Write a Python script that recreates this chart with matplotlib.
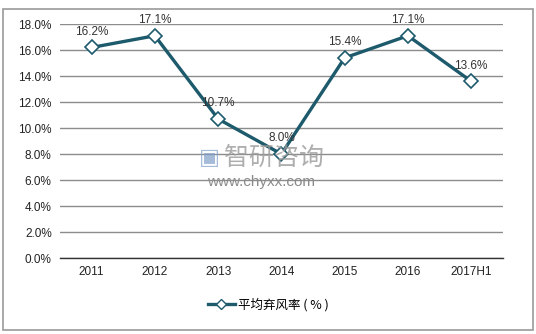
import matplotlib
matplotlib.use("Agg")
import matplotlib.pyplot as plt
from matplotlib.patches import Rectangle
from matplotlib.lines import Line2D

plt.rcParams["font.family"] = ["Liberation Sans", "Noto Sans CJK SC", "DejaVu Sans"]

categories = ["2011", "2012", "2013", "2014", "2015", "2016", "2017H1"]
rates = [16.2, 17.1, 10.7, 8.0, 15.4, 17.1, 13.6]
yticks = [0, 2, 4, 6, 8, 10, 12, 14, 16, 18]

LINE_COLOR = "#1d5a6c"
GRID_COLOR = "#8c8c8c"

fig = plt.figure(figsize=(5.36, 3.34), dpi=100)
ax = fig.add_axes([0.112, 0.2275, 0.826, 0.7005])

x = range(len(categories))
ax.plot(x, rates, color=LINE_COLOR, lw=2.4, marker="D", ms=7,
        mfc="white", mec=LINE_COLOR, mew=1.2, zorder=3)

for xi, v in zip(x, rates):
    ax.annotate(f"{v:.1f}%", (xi, v), xytext=(0, 7), textcoords="offset points",
                ha="center", va="bottom", fontsize=8.5, color="#333333", zorder=4)

ax.set_xlim(-0.5, len(categories) - 0.5)
ax.set_ylim(0, 18)
ax.set_yticks(yticks)
ax.set_yticklabels([f"{t:.1f}%" for t in yticks], fontsize=8.5, color="#222222")
ax.set_xticks(list(x))
ax.set_xticklabels(categories, fontsize=8.5, color="#222222")
ax.tick_params(length=0, pad=6)
ax.yaxis.grid(True, color=GRID_COLOR, lw=1)
ax.set_axisbelow(True)
for side in ["top", "right", "left"]:
    ax.spines[side].set_visible(False)
ax.spines["bottom"].set_color("#333333")
ax.spines["bottom"].set_linewidth(1)

# 水印
fig.text(0.418, 0.528, "智研咨询", fontsize=18, color="#9a9a9a", alpha=0.8,
         ha="left", va="center", family=["Noto Sans CJK SC"], zorder=5)
fig.text(0.372, 0.528, "▣", fontsize=16, color="#7f9fc8", alpha=0.7,
         ha="left", va="center", family=["DejaVu Sans"], zorder=5)
fig.text(0.487, 0.456, "www.chyxx.com", fontsize=11, color="#8a8a8a",
         ha="center", va="center", zorder=5)

handle = Line2D([], [], color=LINE_COLOR, lw=2.4, marker="D", ms=5,
                mfc="white", mec=LINE_COLOR, mew=1.0)
fig.legend([handle], ["平均弃风率 ( % )"], loc="center", bbox_to_anchor=(0.5, 0.087),
           frameon=False, handlelength=2.2, handletextpad=0.2,
           prop={"family": ["Noto Sans CJK SC"], "size": 9})

fig.patches.append(Rectangle((0.006, 0.012), 0.988, 0.962, transform=fig.transFigure,
                             fill=False, ec="#9a9a9a", lw=1.2))

fig.savefig("out.png", dpi=100)
